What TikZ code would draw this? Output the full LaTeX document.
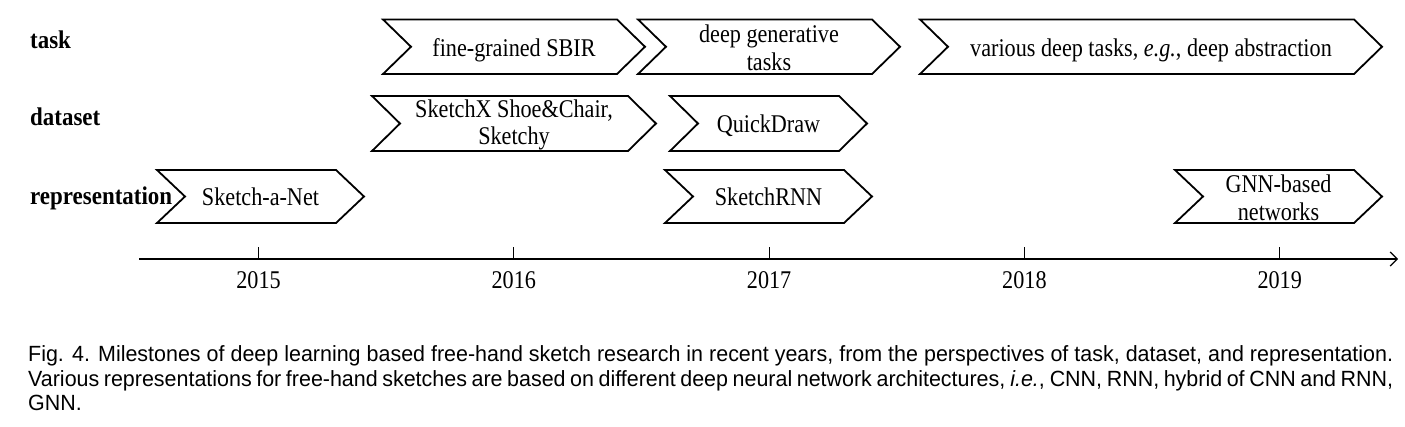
\documentclass[tikz,border=0pt]{standalone}
\usepackage{fontspec}
\setmainfont[FakeStretch=0.87,BoldFeatures={FakeStretch=0.9}]{Liberation Serif}
\newfontfamily\capfont[FakeStretch=0.975]{Liberation Sans}
\usetikzlibrary{arrows.meta}
\newcommand\chevshape[4]{%
  \draw[chev] (#1,#3) -- ({#2-28},#3) -- (#2,{(#3+#4)/2}) -- ({#2-28},#4) -- (#1,#4) -- ({#1+28},{(#3+#4)/2}) -- cycle;}
\begin{document}
\begin{tikzpicture}[x=1pt,y=-1pt,
  chev/.style={line width=1.8pt, line join=miter},
  lbl/.style={font=\fontsize{25.5}{27.5}\selectfont, inner sep=0pt, align=center},
  rowlbl/.style={font=\fontsize{25.5}{27.5}\selectfont\bfseries, inner sep=0pt, anchor=base west},
  yearlbl/.style={font=\fontsize{25.5}{27.5}\selectfont, inner sep=0pt, anchor=base},
  tickmark/.style={line width=1.2pt},
  axisline/.style={line width=2pt, -{Straight Barb[length=7pt,width=14pt,line width=1.2pt]}},
  captext/.style={font=\capfont\fontsize{22}{24.5}\selectfont, inner sep=0pt, anchor=base west}]
\useasboundingbox (0,0) rectangle (1405,427);

% row labels
\node[rowlbl] (ltask) at (30,49) {task};
\node[rowlbl] (ldata) at (30,126) {dataset};
\node[rowlbl] (lrep) at (30,205) {representation};

% task row (19.5 -- 74)
\chevshape{383}{645}{19.5}{74}
\node[lbl, anchor=base] (t1) at (514,56.25) {fine-grained SBIR};
\chevshape{638}{900}{19.5}{74}
\node[lbl] (t2) at (769,48) {deep generative\\tasks};
\chevshape{920}{1382}{19.5}{74}
\node[lbl, anchor=base] (t3) at (1151,56.25) {various deep tasks, \textit{e.g.}, deep abstraction};

% dataset row (96 -- 151)
\chevshape{372}{656}{96}{151}
\node[lbl] (d1) at (514,125) {SketchX Shoe\&Chair,\\Sketchy};
\chevshape{670}{867}{96}{151}
\node[lbl, anchor=base] (d2) at (768.5,133) {QuickDraw};

% representation row (170 -- 223)
\chevshape{157}{364}{170}{223}
\node[lbl, anchor=base] (r1) at (260.5,206) {Sketch-a-Net};
\chevshape{665}{872}{170}{223}
\node[lbl, anchor=base] (r2) at (768.5,206) {SketchRNN};
\chevshape{1175}{1382}{170}{223}
\node[lbl] (r3) at (1278.5,198) {GNN-based\\networks};

% axis
\coordinate (a0) at (139,259);
\coordinate (a1) at (1398,259);
\draw[axisline] (a0) -- (a1);
\foreach \yr [count=\i from 0] in {2015,2016,2017,2018,2019}{
  \coordinate (k\yr) at ({258.5+255.3*\i},259);
  \draw[tickmark] (k\yr) -- ++(0,-12);
  \node[yearlbl] (y\yr) at ({258.5+255.3*\i},289) {\yr};
}

% caption
\node[captext] (c1) at (28,362) {\makebox[1365pt][s]{Fig. 4. Milestones of deep learning based free-hand sketch research in recent years, from the perspectives of task, dataset, and representation.}};
\node[captext] (c2) at (28,386) {\makebox[1365pt][s]{Various representations for free-hand sketches are based on different deep neural network architectures, \textit{i.e.}, CNN, RNN, hybrid of CNN and RNN,}};
\node[captext] (c3) at (28,410) {GNN.};
\end{tikzpicture}
\end{document}
